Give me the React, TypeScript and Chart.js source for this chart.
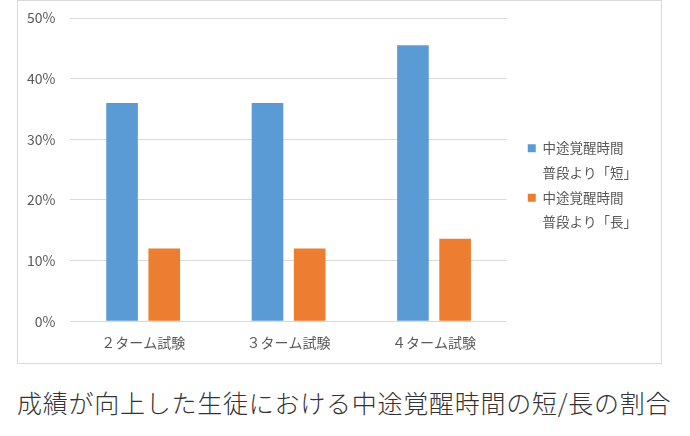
import React, { useEffect, useRef } from "react";
import { Chart, registerables } from "chart.js";

Chart.register(...registerables);

const categories = ["２ターム試験", "３ターム試験", "４ターム試験"];
const shortLabel = ["中途覚醒時間", "普段より「短」"];
const longLabel = ["中途覚醒時間", "普段より「長」"];
const shortValues = [0.36, 0.36, 0.455];
const longValues = [0.12, 0.12, 0.136];
const yTicks = [0, 0.1, 0.2, 0.3, 0.4, 0.5];
const title = "成績が向上した生徒における中途覚醒時間の短/長の割合";

const FONT = "'Noto Sans CJK JP', 'Noto Sans', sans-serif";
const BLUE = "#5B9BD5";
const ORANGE = "#ED7D31";
const GRID = "#D9D9D9";
const TEXT = "#595959";

const LEGEND_GAP = 20;
const LEGEND_DOWN = 6;

const legendTweak = {
  id: "legendTweak",
  afterInit(chart: any) {
    const lg = chart.legend;
    if (!lg) return;
    const origFit = lg.fit.bind(lg);
    lg.fit = function () {
      origFit();
      this.width += LEGEND_GAP;
    };
  },
  afterLayout(chart: any) {
    const lg = chart.legend;
    if (!lg) return;
    lg.left += LEGEND_GAP;
    lg.top += LEGEND_DOWN;
    lg.bottom += LEGEND_DOWN;
  },
};

export default function App() {
  const ref = useRef<HTMLCanvasElement | null>(null);

  useEffect(() => {
    if (!ref.current) return;
    const labelsByIndex = [shortLabel, longLabel];
    const chart = new Chart(ref.current, {
      type: "bar",
      data: {
        labels: categories,
        datasets: [
          {
            label: shortLabel.join(" "),
            data: shortValues,
            backgroundColor: BLUE,
            categoryPercentage: 0.58,
            barPercentage: 0.75,
          },
          {
            label: longLabel.join(" "),
            data: longValues,
            backgroundColor: ORANGE,
            categoryPercentage: 0.58,
            barPercentage: 0.75,
          },
        ],
      },
      plugins: [legendTweak],
      options: {
        animation: false,
        responsive: true,
        maintainAspectRatio: false,
        layout: { padding: { left: 9, right: 14, top: 17, bottom: 12 } },
        plugins: {
          title: { display: false },
          tooltip: { enabled: false },
          legend: {
            position: "right",
            labels: {
              boxWidth: 8,
              boxHeight: 8,
              padding: 1,
              color: TEXT,
              font: { family: FONT, size: 13.5, lineHeight: 1.8 },
              generateLabels: (c: any) =>
                c.data.datasets.map((ds: any, i: number) => ({
                  text: labelsByIndex[i],
                  fillStyle: ds.backgroundColor,
                  strokeStyle: ds.backgroundColor,
                  lineWidth: 0,
                  hidden: false,
                  datasetIndex: i,
                  fontColor: TEXT,
                })),
            },
          },
        },
        scales: {
          x: {
            grid: { display: false, drawTicks: false },
            border: { display: true, color: GRID, width: 1 },
            ticks: {
              color: TEXT,
              padding: 13,
              font: { family: FONT, size: 14 },
            },
            afterFit: (s: any) => {
              s.height -= 13;
            },
          },
          y: {
            min: 0,
            max: 0.5,
            afterBuildTicks: (axis: any) => {
              axis.ticks = yTicks.map((v) => ({ value: v }));
            },
            grid: { color: GRID, drawTicks: false, lineWidth: 1 },
            border: { display: false },
            ticks: {
              color: TEXT,
              padding: 15,
              font: { family: FONT, size: 14 },
              callback: (v: any) => `${Math.round(Number(v) * 100)}%`,
            },
            afterFit: (s: any) => {
              s.width -= 15;
              s.paddingTop = 0;
              s.paddingBottom = 0;
            },
          },
        },
      },
    });
    return () => chart.destroy();
  }, []);

  return (
    <div style={{ position: "absolute", left: 0, top: 0, width: 690, height: 436, background: "#fff" }}>
      <div
        style={{
          position: "absolute",
          left: 17,
          top: 0,
          width: 645,
          height: 364,
          boxSizing: "border-box",
          border: `1px solid ${GRID}`,
        }}
      >
        <canvas ref={ref} />
      </div>
      <div
        style={{
          position: "absolute",
          left: 17,
          top: 390,
          fontFamily: FONT,
          fontSize: 25,
          fontWeight: 300,
          lineHeight: "25px",
          letterSpacing: "0.75px",
          color: "#333",
          whiteSpace: "nowrap",
        }}
      >
        {title}
      </div>
    </div>
  );
}
